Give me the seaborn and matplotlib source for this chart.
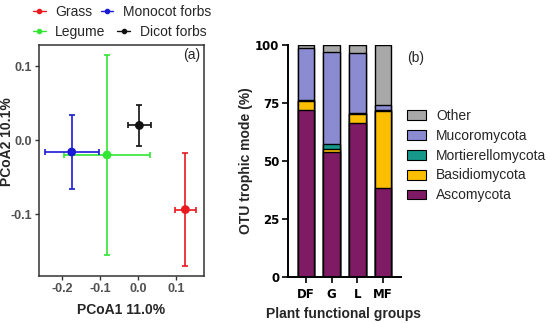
import matplotlib
matplotlib.use("Agg")
import matplotlib.pyplot as plt
from matplotlib.lines import Line2D
from matplotlib.patches import Patch
import numpy as np
import pandas as pd
import seaborn as sns

# PCoA centroids (a)
groups = ['Grass', 'Legume', 'Monocot forbs', 'Dicot forbs']
pc1 = [0.125, -0.081, -0.174, 0.004]
pc2 = [-0.094, -0.020, -0.016, 0.020]
pc1_err = [0.028, 0.112, 0.071, 0.030]
pc2_err = [0.077, 0.136, 0.050, 0.028]
group_colors = ['#e8191f', '#33e633', '#1a1ad6', '#111111']

# trophic mode composition (b)
pfg = ['DF', 'G', 'L', 'MF']
phyla = ['Ascomycota', 'Basidiomycota', 'Mortierellomycota', 'Mucoromycota', 'Other']
ascomycota = [71.9, 53.7, 66.2, 38.4]
basidiomycota = [4.1, 1.4, 4.0, 33.3]
mortierellomycota = [0.3, 2.0, 0.4, 0.3]
mucoromycota = [22.4, 40.0, 25.8, 2.0]
other = [1.3, 2.9, 3.6, 26.0]
phyla_colors = ['#7f1a64', '#fbbf00', '#16998a', '#8b8bd2', '#a8a8a8']

sns.set_theme(style='ticks')
plt.rcParams['font.family'] = ['Liberation Sans', 'DejaVu Sans']

fig = plt.figure(figsize=(5.5, 3.24), dpi=100)
W, H = 550, 324

def box(x0, y0, x1, y1):
    return [x0 / W, 1 - y1 / H, (x1 - x0) / W, (y1 - y0) / H]

# ---- panel a
ax1 = fig.add_axes(box(39, 45, 204, 276))
df_a = pd.DataFrame({'group': groups, 'pc1': pc1, 'pc2': pc2,
                     'e1': pc1_err, 'e2': pc2_err})
pal = dict(zip(groups, group_colors))
for _, r in df_a.iterrows():
    ax1.errorbar(r['pc1'], r['pc2'], xerr=r['e1'], yerr=r['e2'],
                 fmt='none', ecolor=pal[r['group']], elinewidth=1.2,
                 capsize=2.5, capthick=1.2, zorder=2)
sns.scatterplot(data=df_a, x='pc1', y='pc2', hue='group', palette=pal,
                s=40, edgecolor='none', legend=False, zorder=3, ax=ax1)
ax1.set_xlim(-0.26, 0.174)
ax1.set_ylim(-0.184, 0.129)
ax1.set_xticks([-0.2, -0.1, 0.0, 0.1])
ax1.set_yticks([-0.1, 0.0, 0.1])
ax1.set_xticklabels(['-0.2', '-0.1', '0.0', '0.1'])
ax1.set_yticklabels(['-0.1', '0.0', '0.1'])
for s in ax1.spines.values():
    s.set_color('#333333')
    s.set_linewidth(1.1)
ax1.tick_params(direction='out', length=3, width=1, color='#333333',
                labelcolor='#505050', pad=2, labelsize=9)
for t in ax1.get_xticklabels() + ax1.get_yticklabels():
    t.set_fontweight('bold')
ax1.set_xlabel('PCoA1 11.0%', fontsize=10, fontweight='bold')
ax1.set_ylabel('PCoA2 10.1%', fontsize=10, fontweight='bold')
ax1.xaxis.set_label_coords(0.5, (276 - 303) / 231)
ax1.yaxis.set_label_coords((14 - 39) / 165, 0.58)
ax1.text(0.924, 0.957, '(a)', transform=ax1.transAxes, ha='center',
         va='center', fontsize=10)

# legend laid out row by row, as in the original
rows = [(0, 2, 0.6, 12), (1, 3, 0.85, 32)]
for a, b, cs, yc in rows:
    hs = [Line2D([0], [0], color=group_colors[k], marker='o', markersize=3,
                 lw=1) for k in (a, b)]
    fig.legend(hs, [groups[a], groups[b]], ncol=2, frameon=False,
               fontsize=10, loc='center left',
               bbox_to_anchor=(33 / W, 1 - yc / H), handlelength=0.9,
               handletextpad=0.7, columnspacing=cs, borderpad=0,
               borderaxespad=0)

# ---- panel b
ax2 = fig.add_axes(box(287.5, 45, 400.5, 276.7))
layers = [ascomycota, basidiomycota, mortierellomycota, mucoromycota, other]
cum = np.cumsum(np.array(layers), axis=0)
for i in range(len(phyla) - 1, -1, -1):
    df_b = pd.DataFrame({'pfg': pfg, 'val': cum[i]})
    sns.barplot(data=df_b, x='pfg', y='val', color=phyla_colors[i],
                saturation=1, width=0.65, edgecolor='black', linewidth=1,
                ax=ax2)
ax2.set_xlim(-0.73, 3.69)
ax2.set_ylim(0, 100)
ax2.set_yticks([0, 25, 50, 75, 100])
sns.despine(ax=ax2)
for s in ax2.spines.values():
    s.set_linewidth(1.4)
    s.set_color('black')
ax2.tick_params(direction='out', length=4, width=1.2, color='black',
                labelcolor='black')
ax2.tick_params(axis='y', pad=2)
ax2.tick_params(axis='x', pad=4)
for t in ax2.get_xticklabels() + ax2.get_yticklabels():
    t.set_fontproperties(dict(family='DejaVu Sans', weight='bold'))
    t.set_fontsize(8.5)
ax2.set_xlabel('Plant functional groups', fontsize=10, fontweight='bold')
ax2.set_ylabel('OTU trophic mode (%)', fontsize=10, fontweight='bold')
ax2.xaxis.set_label_coords(0.5, (276.7 - 307) / 231.7)
ax2.yaxis.set_label_coords((253 - 287.5) / 113, 0.5)
fig.text(407 / W, 1 - 58 / H, '(b)', fontsize=10, va='center')

leg_handles = [Patch(facecolor=phyla_colors[i], edgecolor='black', lw=0.8)
               for i in range(len(phyla) - 1, -1, -1)]
fig.legend(leg_handles, phyla[::-1], frameon=False, fontsize=10,
           loc='upper left', bbox_to_anchor=(407 / W, 1 - 109 / H),
           handlelength=1.37, handleheight=0.72, handletextpad=0.72,
           labelspacing=0.42, borderpad=0, borderaxespad=0)

fig.savefig('out.png', dpi=100)
